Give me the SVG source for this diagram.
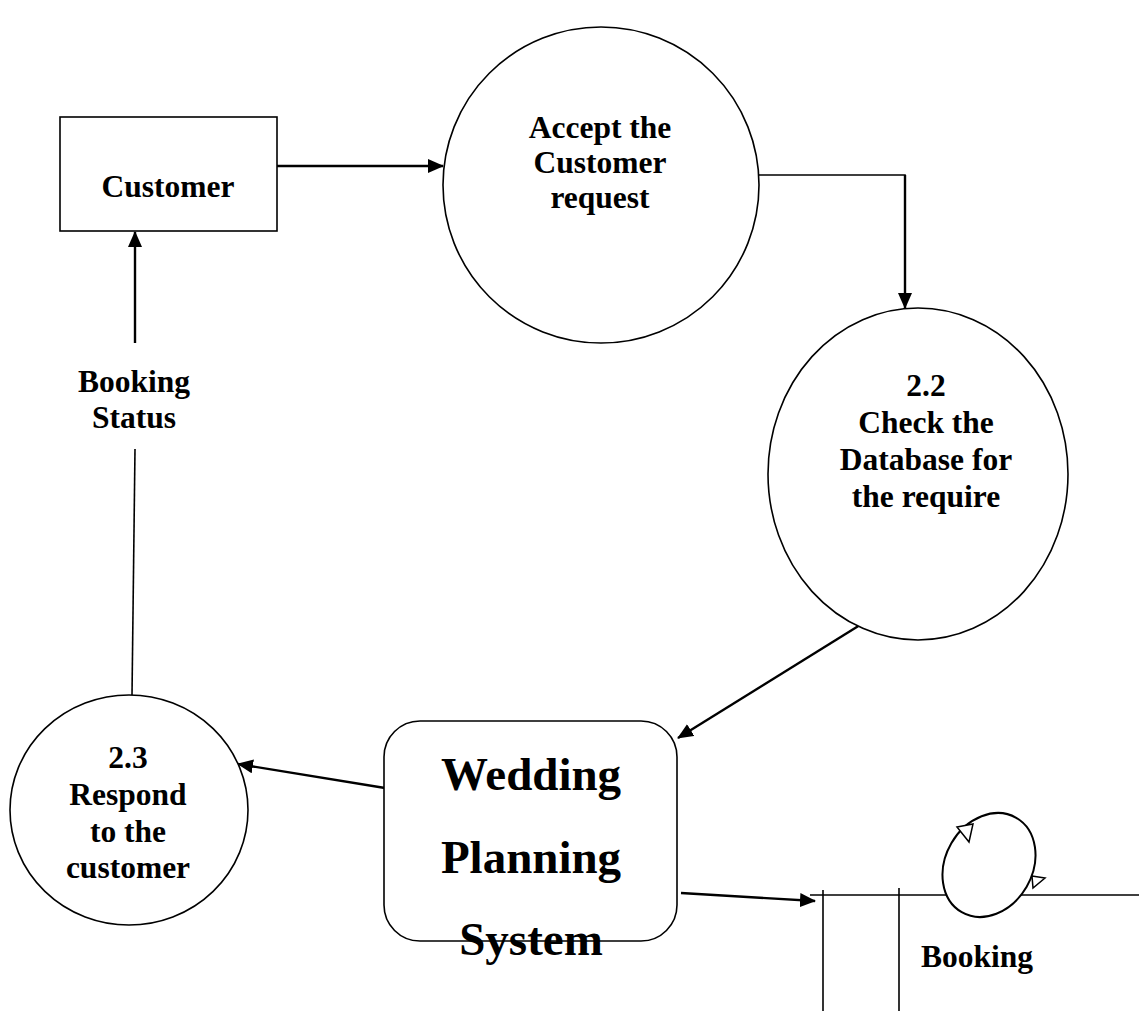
<svg xmlns="http://www.w3.org/2000/svg" width="1139" height="1011" viewBox="0 0 1139 1011">
<style>
.shape{fill:#fff;stroke:#000;stroke-width:1.6}
.t{font-family:"Liberation Serif","Times New Roman",serif;font-weight:bold;font-size:31.5px;text-anchor:middle;fill:#000}
.big{font-size:47px}
.c{fill:none;stroke:#000;stroke-width:2.4}
.thin{fill:none;stroke:#000;stroke-width:1.6}
.open{fill:#fff;stroke:#000;stroke-width:1.5}
</style>
<defs>
<marker id="ah" markerUnits="userSpaceOnUse" markerWidth="16" markerHeight="14" refX="15" refY="7" orient="auto">
<path d="M0,0 L16,7 L0,14 Z" fill="#000"/>
</marker>
</defs>
<rect width="1139" height="1011" fill="#fff"/>
<g id="connectors">
<line class="c" x1="277" y1="166" x2="443" y2="166" marker-end="url(#ah)"/>
<polyline class="thin" points="759,175 905,175 905,180"/>
<line class="c" x1="905" y1="175" x2="905" y2="308" marker-end="url(#ah)"/>
<line class="c" x1="860" y1="625" x2="678" y2="738" marker-end="url(#ah)"/>
<line class="c" x1="385" y1="788" x2="238" y2="764" marker-end="url(#ah)"/>
<line class="c" x1="681" y1="893" x2="815" y2="901" marker-end="url(#ah)"/>
<line class="c" x1="135" y1="343" x2="135" y2="232" marker-end="url(#ah)"/>
<line class="thin" x1="135" y1="449" x2="132" y2="695"/>
</g>
<g id="customer">
<rect class="shape" x="60" y="117" width="217" height="114"/>
<text class="t" x="168" y="197">Customer</text>
</g>
<g id="accept">
<circle class="shape" cx="601" cy="185" r="158"/>
<text class="t" x="600" y="138">Accept the</text>
<text class="t" x="600" y="173">Customer</text>
<text class="t" x="600" y="208">request</text>
</g>
<g id="check">
<ellipse class="shape" cx="918" cy="474" rx="150" ry="166"/>
<text class="t" x="926" y="396">2.2</text>
<text class="t" x="926" y="433">Check the</text>
<text class="t" x="926" y="470">Database for</text>
<text class="t" x="926" y="507">the require</text>
</g>
<g id="respond">
<ellipse class="shape" cx="129" cy="810" rx="119" ry="115"/>
<text class="t" x="128" y="768">2.3</text>
<text class="t" x="128" y="805">Respond</text>
<text class="t" x="128" y="842">to the</text>
<text class="t" x="128" y="878">customer</text>
</g>
<g id="status-label">
<text class="t" x="134" y="392">Booking</text>
<text class="t" x="134" y="428">Status</text>
</g>
<g id="system">
<rect class="shape" x="384" y="721" width="293" height="220" rx="36" ry="36"/>
<text class="t big" x="531" y="790">Wedding</text>
<text class="t big" x="531" y="873">Planning</text>
<text class="t big" x="531" y="955">System</text>
</g>
<g id="booking-store">
<line class="thin" x1="810" y1="895" x2="1139" y2="895"/>
<line class="thin" x1="823" y1="890" x2="823" y2="1011"/>
<line class="thin" x1="899" y1="888" x2="899" y2="1011"/>
<text class="t" x="977" y="967">Booking</text>
</g>
<g id="loop">
<ellipse cx="989" cy="865" rx="43.5" ry="54.5" transform="rotate(30 989 865)" fill="#fff" stroke="#000" stroke-width="2"/>
<polygon class="open" points="957,827 973,824 969,842"/>
<polygon class="open" points="1032,876 1045,878 1033,888"/>
</g>
</svg>
